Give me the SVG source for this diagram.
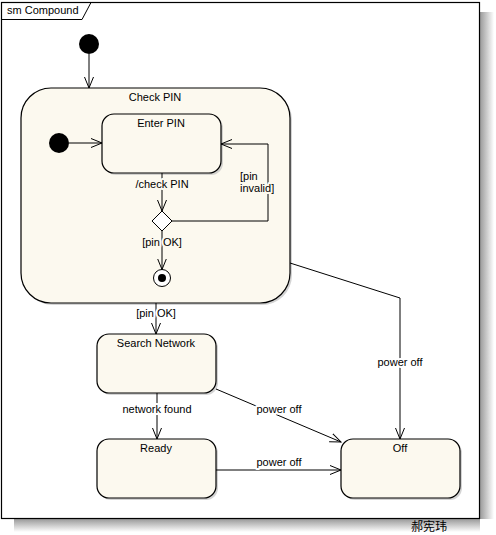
<svg xmlns="http://www.w3.org/2000/svg" width="496" height="535" viewBox="0 0 496 535">
<defs>
<style>
text{font-family:"Liberation Sans",Arial,sans-serif;font-size:11px;fill:#000}
.c{text-anchor:middle}
.st{fill:#FCF9EF;stroke:#000;stroke-width:1.2}
.sh{fill:#b8b8b8;opacity:0.6}
.ln{fill:none;stroke:#000;stroke-width:1}
.lbw{paint-order:stroke;stroke:#fff;stroke-width:4px;stroke-linejoin:round}
.lbc{paint-order:stroke;stroke:#FCF9EF;stroke-width:4px;stroke-linejoin:round}
</style>
<marker id="ah" viewBox="0 0 12 10" refX="11" refY="5" markerWidth="12" markerHeight="10" markerUnits="userSpaceOnUse" orient="auto">
<path d="M0,0.5 L11,5 L0,9.5" fill="none" stroke="#000" stroke-width="1"/>
</marker>
<linearGradient id="gr" x1="0" y1="0" x2="1" y2="0">
<stop offset="0" stop-color="#9a9a9a"/>
<stop offset="1" stop-color="#ffffff"/>
</linearGradient>
<linearGradient id="gb" x1="0" y1="0" x2="0" y2="1">
<stop offset="0" stop-color="#9a9a9a"/>
<stop offset="1" stop-color="#ffffff"/>
</linearGradient>
</defs>
<rect width="496" height="535" fill="#fff"/>
<g id="frame">
<rect x="480" y="12" width="14" height="507" fill="url(#gr)"/>
<rect x="14" y="519" width="466" height="13" fill="url(#gb)"/>
<rect x="1.5" y="2.5" width="478" height="516" fill="#fff" stroke="#000" stroke-width="1.2"/>
<path d="M1.5,19.5 H82 L91,2.5" class="ln"/>
<text x="7" y="14">sm Compound</text>
</g>
<g id="init1"><circle cx="89" cy="44" r="10" fill="#000"/></g>
<g id="checkpin">
<rect x="23" y="90" width="269" height="215" rx="30" class="sh"/>
<rect x="21" y="88" width="269" height="215" rx="30" class="st"/>
<text x="155" y="101" class="c">Check PIN</text>
</g>
<g id="init2"><circle cx="59" cy="143" r="10" fill="#000"/></g>
<g id="enterpin">
<rect x="104" y="116" width="119" height="59" rx="12" class="sh"/>
<rect x="102" y="114" width="119" height="59" rx="12" class="st"/>
<text x="161" y="127" class="c">Enter PIN</text>
</g>
<g id="choice"><path d="M162,211 L172,221 L162,231 L152,221 Z" fill="#fff" stroke="#000" stroke-width="1"/></g>
<g id="final"><circle cx="162" cy="278" r="8.5" fill="#fff" stroke="#000" stroke-width="1"/><circle cx="162" cy="278" r="4" fill="#000"/></g>
<g id="search">
<rect x="99" y="336" width="119" height="59" rx="12" class="sh"/>
<rect x="97" y="334" width="119" height="59" rx="12" class="st"/>
<text x="156" y="347" class="c">Search Network</text>
</g>
<g id="ready">
<rect x="99" y="441" width="119" height="59" rx="12" class="sh"/>
<rect x="97" y="439" width="119" height="59" rx="12" class="st"/>
<text x="156" y="452" class="c">Ready</text>
</g>
<g id="off">
<rect x="343" y="441" width="119" height="59" rx="12" class="sh"/>
<rect x="341" y="439" width="119" height="59" rx="12" class="st"/>
<text x="400" y="452" class="c">Off</text>
</g>
<g id="connectors">
<path d="M89,54 V88" class="ln" marker-end="url(#ah)"/>
<path d="M69,143 H102" class="ln" marker-end="url(#ah)"/>
<path d="M162,173 V211" class="ln" marker-end="url(#ah)"/>
<path d="M172,221 H268 V144 H221" class="ln" marker-end="url(#ah)"/>
<path d="M162,231 V269.5" class="ln" marker-end="url(#ah)"/>
<path d="M156,303 V334" class="ln" marker-end="url(#ah)"/>
<path d="M157,393 V439" class="ln" marker-end="url(#ah)"/>
<path d="M216,389 L341,442" class="ln" marker-end="url(#ah)"/>
<path d="M216,470 H341" class="ln" marker-end="url(#ah)"/>
<path d="M290,263 L400,298 V439" class="ln" marker-end="url(#ah)"/>
<text x="162" y="188" class="c lbc">/check PIN</text>
<text x="240" y="180" class="lbc">[pin</text>
<text x="240" y="192" class="lbc">invalid]</text>
<text x="162" y="246" class="c lbc">[pin OK]</text>
<text x="156" y="317" class="c lbw">[pin OK]</text>
<text x="157" y="413" class="c lbw">network found</text>
<text x="279" y="413" class="c lbw">power off</text>
<text x="279" y="466" class="c lbw">power off</text>
<text x="400" y="366" class="c lbw">power off</text>
</g>
<text x="429" y="531" class="c" style="font-family:'Liberation Sans','Noto Sans CJK SC',sans-serif;font-size:12px">郝宪玮</text>
</svg>
